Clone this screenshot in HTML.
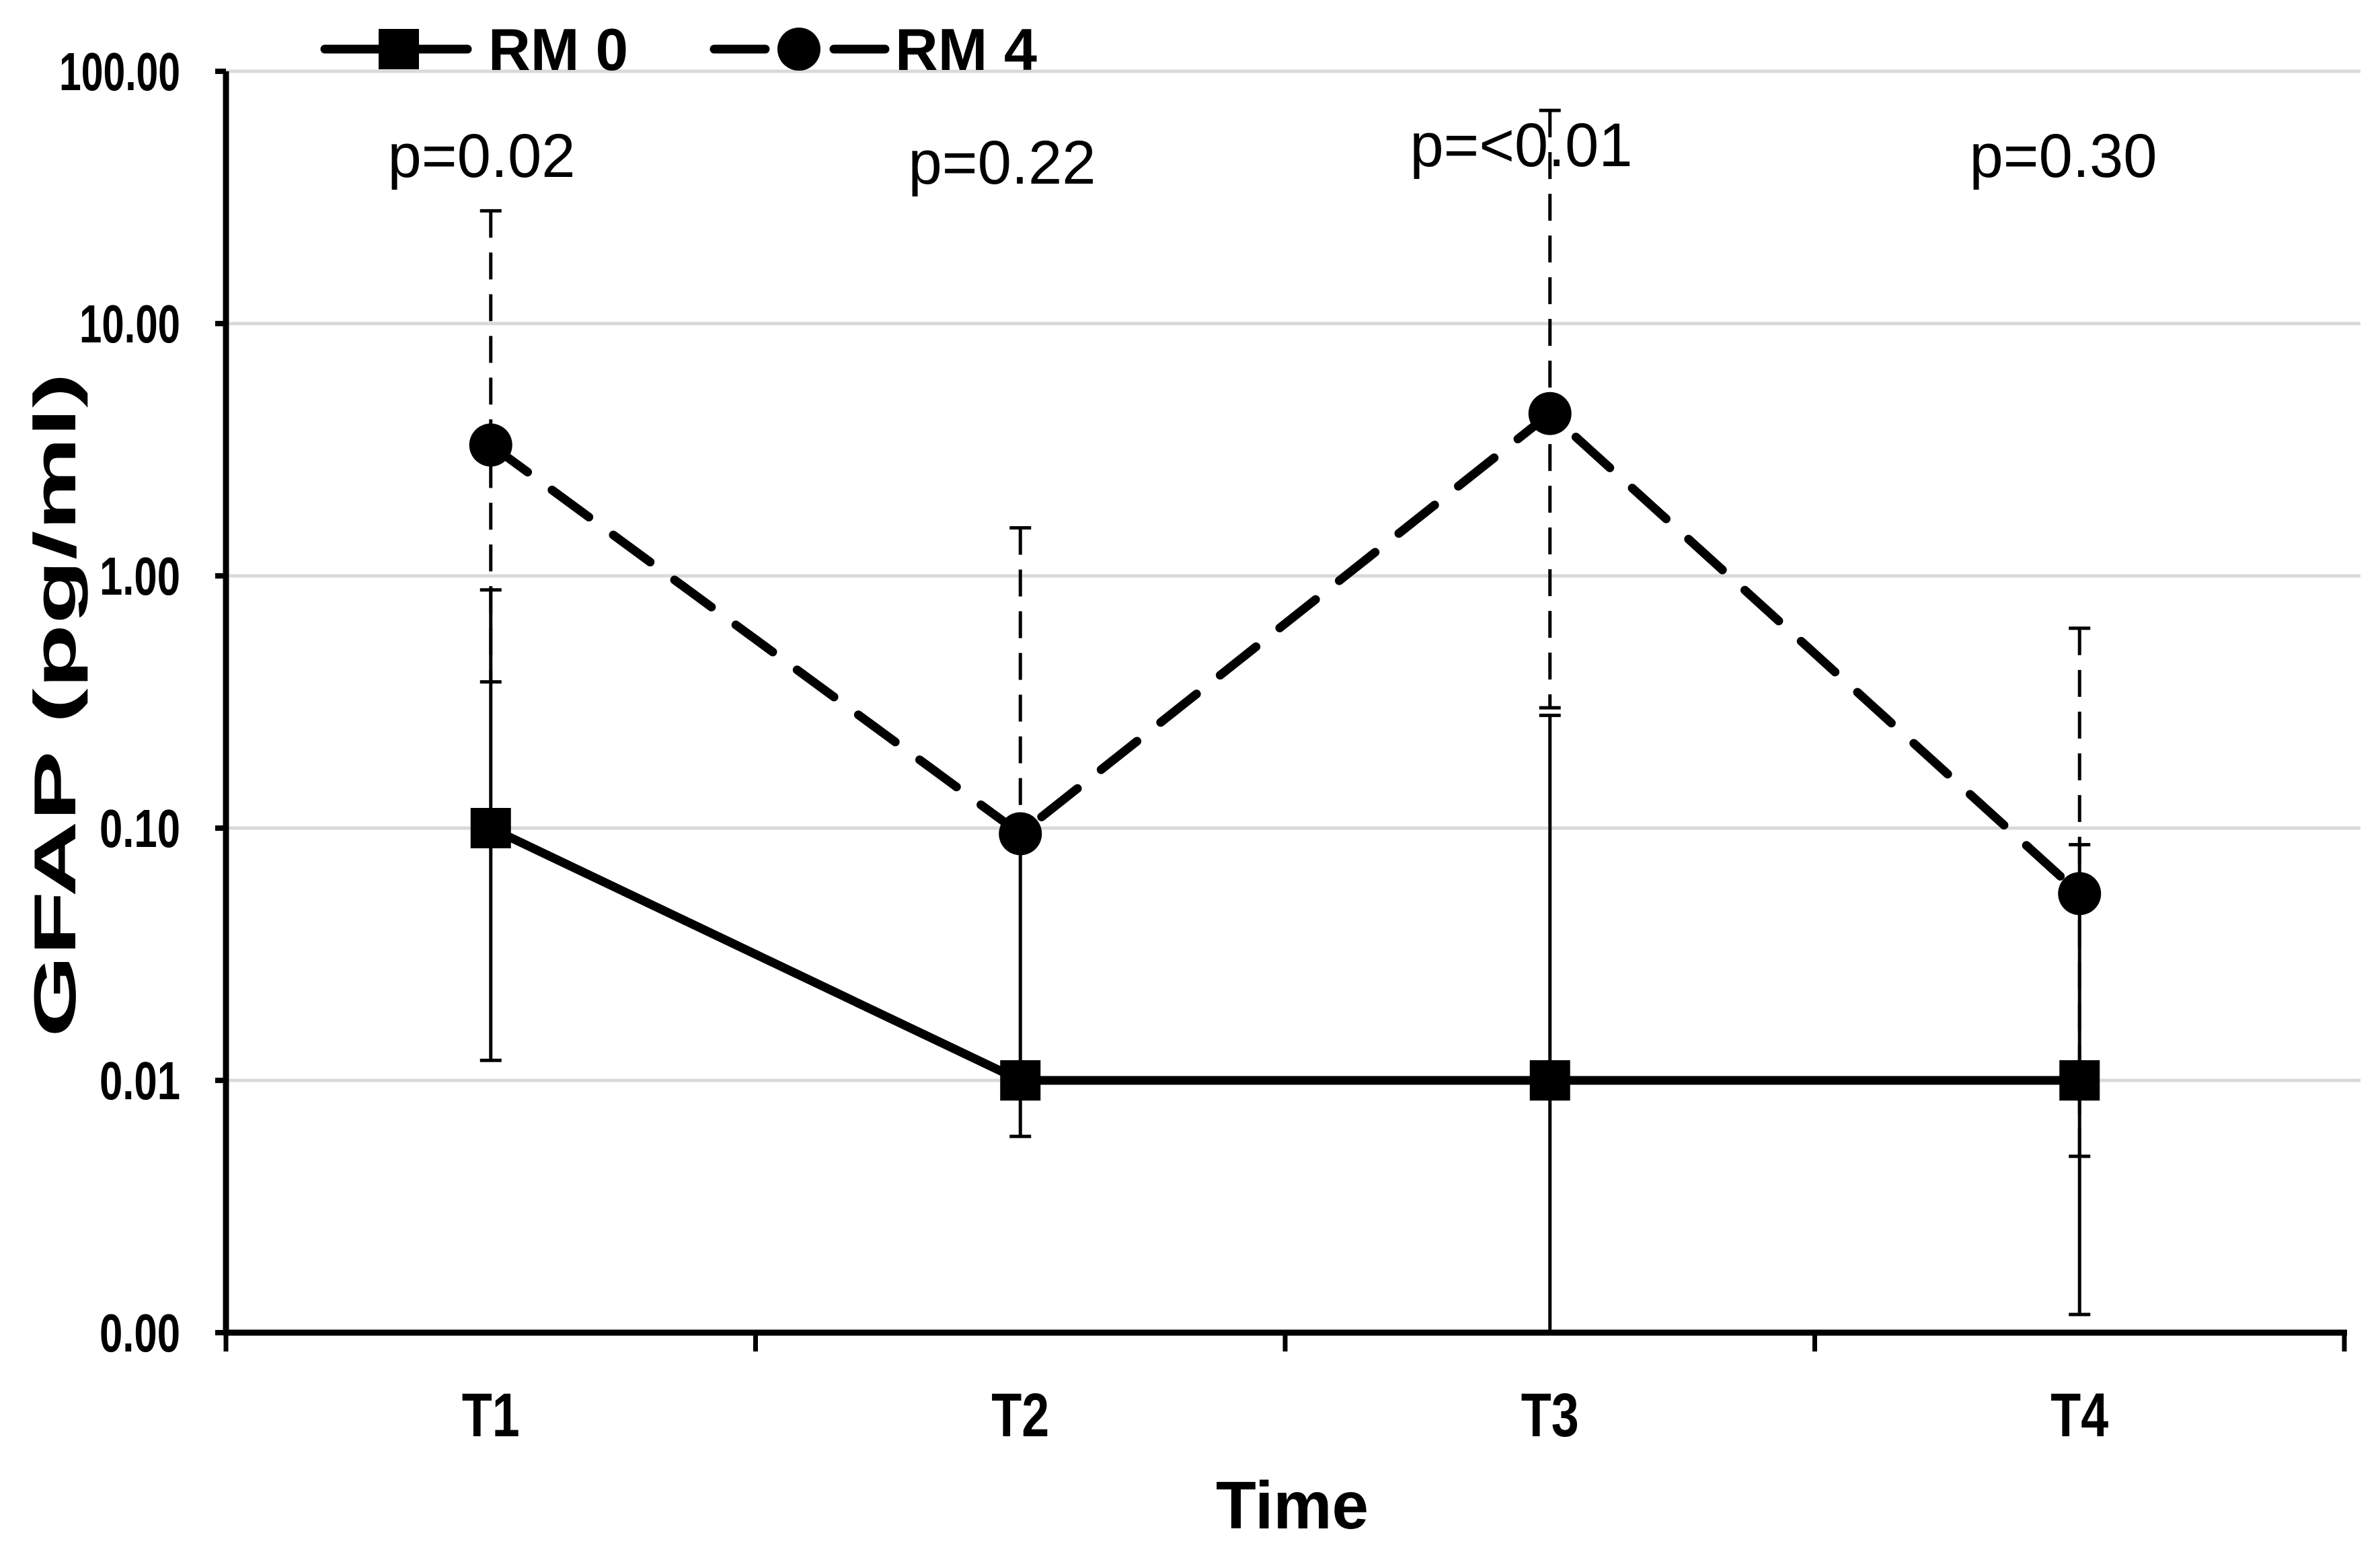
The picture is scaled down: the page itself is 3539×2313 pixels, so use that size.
<!DOCTYPE html>
<html><head><meta charset="utf-8"><style>
html,body{margin:0;padding:0;background:#fff}
svg{display:block}
text{font-family:"Liberation Sans",Arial,sans-serif}
</style></head><body>
<svg id="chart" width="3539" height="2313" viewBox="0 0 3539 2313">
<g id="grid"></g>
<g id="bars"></g>
<g id="lines"></g>
<g id="axes"></g>
<g id="labels"></g>
<g>
  <g>
    <line x1="483" y1="73" x2="695" y2="73" stroke="#000" stroke-width="13" stroke-linecap="round"/>
    <rect x="563" y="43" width="60" height="60" fill="#000"/>
    <text x="726" y="104" font-size="88" font-weight="bold" textLength="208" lengthAdjust="spacingAndGlyphs">RM 0</text>
  </g>
  <g>
    <line x1="1062" y1="73" x2="1138" y2="73" stroke="#000" stroke-width="13" stroke-linecap="round"/>
    <line x1="1240" y1="73" x2="1316" y2="73" stroke="#000" stroke-width="13" stroke-linecap="round"/>
    <circle cx="1188" cy="73" r="32" fill="#000"/>
    <text x="1331" y="104" font-size="88" font-weight="bold" textLength="211" lengthAdjust="spacingAndGlyphs">RM 4</text>
  </g>
</g>
</svg>
<script>
const categories = ["T1","T2","T3","T4"];
const rm0Values = [0.1, 0.01, 0.01, 0.01];
const rm0Upper = [0.88, 0.09, 0.28, 0.086];
const rm0Lower = [0.012, 0.006, 0.0005, 0.00118];
const rm4Values = [3.3, 0.095, 4.4, 0.055];
const rm4Upper = [28, 1.55, 70, 0.62];
const rm4Lower = [0.38, 0.09, 0.30, 0.005];
const pLabels = ["p=0.02","p=0.22","p=<0.01","p=0.30"];
const yTicks = [100, 10, 1, 0.1, 0.01, 0.001];
const yTickLabels = ["100.00","10.00","1.00","0.10","0.01","0.00"];

const NS = "http://www.w3.org/2000/svg";
const X0 = 336, X1 = 3486, Y100 = 106, DEC = 375, YBOT = 1981;
function y(v){ return Math.min(YBOT, Y100 + (2 - Math.log10(v)) * DEC); }
function x(i){ return X0 + (X1 - X0) * (i + 0.5) / categories.length; }
function mk(tag, attrs, parent){ const e = document.createElementNS(NS, tag); for (const k in attrs) e.setAttribute(k, attrs[k]); parent.appendChild(e); return e; }
const grid = document.getElementById('grid'), bars = document.getElementById('bars'),
      lines = document.getElementById('lines'), axes = document.getElementById('axes'),
      labels = document.getElementById('labels');

yTicks.forEach((t, i) => {
  if (i < yTicks.length - 1) {
    const g = mk('line', {x1: X0, x2: 3510, y1: y(t), y2: y(t), stroke: '#d9d9d9', 'stroke-width': 5}, grid);
    
    
  }
  mk('line', {x1: X0 - 16, x2: X0, y1: y(t), y2: y(t), stroke: '#000', 'stroke-width': 8}, axes);
  const tl = mk('text', {x: 268, y: y(t) + 28, 'font-size': 80, 'font-weight': 'bold', 'text-anchor': 'end', textLength: yTickLabels[i].length * 30, lengthAdjust: 'spacingAndGlyphs'}, labels);
  tl.textContent = yTickLabels[i];
  
  
});

function errBar(i, lo, hi, dashed, name){
  const g = mk('g', {}, bars);
  
  
  const a = {x1: x(i), x2: x(i), y1: y(hi), y2: y(lo), stroke: '#000', 'stroke-width': 5};
  if (dashed) a['stroke-dasharray'] = '40 22';
  mk('line', a, g);
  [hi, lo].forEach(v => { if (y(v) < YBOT) mk('line', {x1: x(i) - 16, x2: x(i) + 16, y1: y(v), y2: y(v), stroke: '#000', 'stroke-width': 5}, g); });
}
categories.forEach((c, i) => {
  errBar(i, rm4Lower[i], rm4Upper[i], true, 'error-bar-rm4-' + c);
  errBar(i, rm0Lower[i], rm0Upper[i], false, 'error-bar-rm0-' + c);
});

const p0 = mk('polyline', {points: rm0Values.map((v, i) => x(i) + ',' + y(v)).join(' '), fill: 'none', stroke: '#000', 'stroke-width': 13}, lines);


const p4 = mk('polyline', {points: rm4Values.map((v, i) => x(i) + ',' + y(v)).join(' '), fill: 'none', stroke: '#000', 'stroke-width': 13, 'stroke-dasharray': '68 45', 'stroke-linecap': 'round'}, lines);


rm0Values.forEach((v, i) => {
  const r = mk('rect', {x: x(i) - 30, y: y(v) - 30, width: 60, height: 60, fill: '#000'}, lines);
  
  
});
rm4Values.forEach((v, i) => {
  const c = mk('circle', {cx: x(i), cy: y(v), r: 32, fill: '#000'}, lines);
  
  
});

mk('line', {x1: X0, x2: X0, y1: Y100, y2: YBOT + 4, stroke: '#000', 'stroke-width': 9}, axes);
mk('line', {x1: X0 - 4, x2: X1 + 4, y1: YBOT, y2: YBOT, stroke: '#000', 'stroke-width': 9}, axes);
for (let k = 0; k <= categories.length; k++) {
  const tx = X0 + (X1 - X0) * k / categories.length;
  mk('line', {x1: tx, x2: tx, y1: YBOT, y2: YBOT + 28, stroke: '#000', 'stroke-width': 7}, axes);
}
categories.forEach((c, i) => {
  const t = mk('text', {x: x(i) - 43, y: 2135, 'font-size': 92, 'font-weight': 'bold', textLength: 86, lengthAdjust: 'spacingAndGlyphs'}, labels);
  t.textContent = c;
  
  
});
const pX = [716, 1490, 2262, 3068];
const pY = [263, 273, 247, 263];
const pW = [279, 279, 331, 279];
pLabels.forEach((p, i) => {
  const t = mk('text', {x: pX[i] - pW[i] / 2, y: pY[i], 'font-size': 92, textLength: pW[i], lengthAdjust: 'spacingAndGlyphs'}, labels);
  t.textContent = p;
  
  
});
const xt = mk('text', {x: 1808, y: 2272, 'font-size': 100, 'font-weight': 'bold', textLength: 227, lengthAdjust: 'spacingAndGlyphs'}, labels);
xt.textContent = 'Time';


const yt = mk('text', {x: -494, y: 0, 'font-size': 88, 'font-weight': 'bold', textLength: 988, lengthAdjust: 'spacingAndGlyphs', transform: 'translate(112,1048) rotate(-90)'}, labels);
yt.textContent = 'GFAP (pg/ml)';


</script>
</body></html>
